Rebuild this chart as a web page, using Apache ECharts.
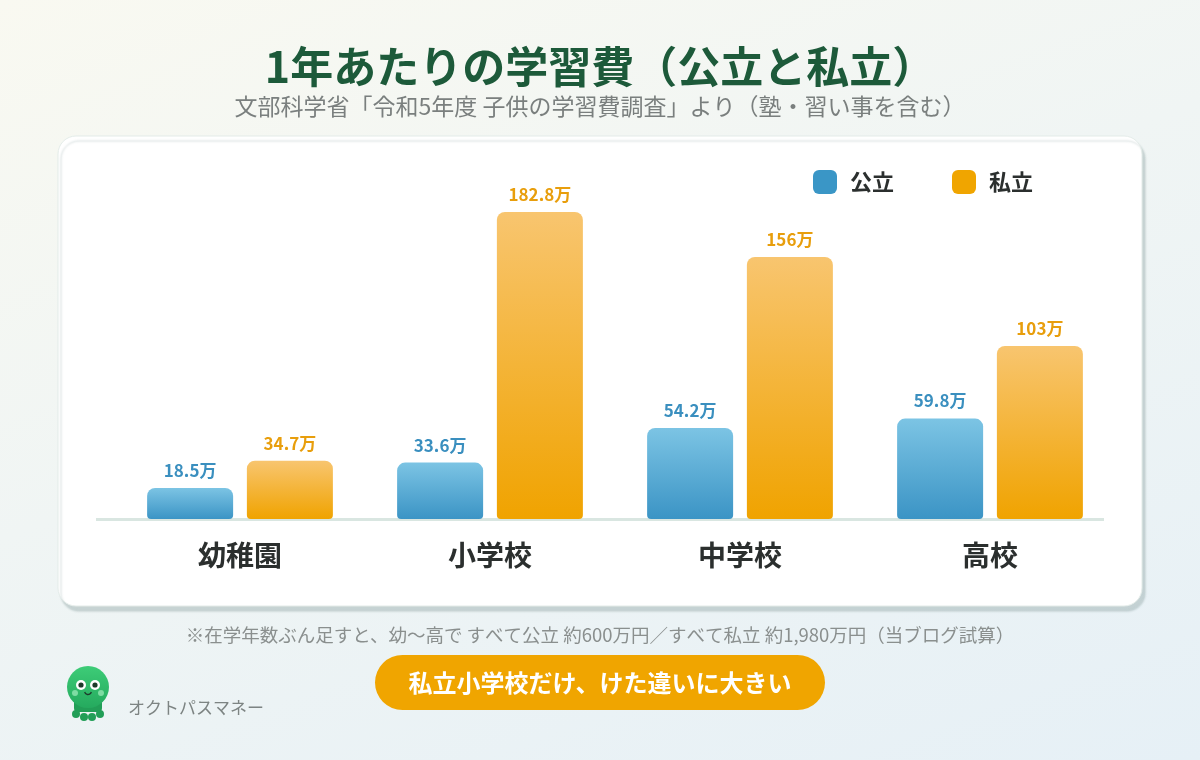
<!DOCTYPE html>
<html lang="ja">
<head>
<meta charset="utf-8">
<title>1年あたりの学習費（公立と私立）</title>
<script src="https://cdn.jsdelivr.net/npm/echarts@6/dist/echarts.min.js"></script>
<style>
  html, body { margin: 0; padding: 0; }
  body {
    width: 1200px; height: 760px;
    background: linear-gradient(160deg, #f9f9f1 0%, #f0f5f4 45%, #e6f0f6 100%);
  }
  #chart { width: 1200px; height: 760px; }
</style>
</head>
<body>
<div id="chart"></div>
<script>
// 文部科学省「令和5年度 子供の学習費調査」 単位: 万円
const categories = ['幼稚園', '小学校', '中学校', '高校']
const publicCost = [18.5, 33.6, 54.2, 59.8]
const privateCost = [34.7, 182.8, 156, 103]

const FONT = '"Noto Sans CJK JP", "Noto Sans", sans-serif'
const BLUE = '#3a96c6'
const ORANGE = '#f0a500'

const chart = echarts.init(document.getElementById('chart'), null, { renderer: 'canvas' })

const grad = (top, bottom) => new echarts.graphic.LinearGradient(0, 0, 0, 1, [
  { offset: 0, color: top },
  { offset: 1, color: bottom }
])

// たこのロゴ
const octopus = {
  type: 'group',
  x: 88,
  y: 690,
  children: [
    { type: 'rect', shape: { x: -14, y: 2, width: 28, height: 20, r: 4 }, style: { fill: '#229e57' } },
    { type: 'circle', shape: { cx: -12, cy: 24, r: 4 }, style: { fill: '#229e57' } },
    { type: 'circle', shape: { cx: -4, cy: 27, r: 4 }, style: { fill: '#229e57' } },
    { type: 'circle', shape: { cx: 4, cy: 27, r: 4 }, style: { fill: '#229e57' } },
    { type: 'circle', shape: { cx: 12, cy: 24, r: 4 }, style: { fill: '#229e57' } },
    { type: 'circle', shape: { cx: 0, cy: -3, r: 21 }, style: { fill: grad('#3dcc77', '#25aa5e') } },
    { type: 'circle', shape: { cx: -7, cy: -5, r: 5 }, style: { fill: '#fff' } },
    { type: 'circle', shape: { cx: 7, cy: -5, r: 5 }, style: { fill: '#fff' } },
    { type: 'circle', shape: { cx: -7, cy: -5, r: 2.6 }, style: { fill: '#1d3a2a' } },
    { type: 'circle', shape: { cx: 7, cy: -5, r: 2.6 }, style: { fill: '#1d3a2a' } },
    { type: 'circle', shape: { cx: -13, cy: 3, r: 3 }, style: { fill: '#7fdca3' } },
    { type: 'circle', shape: { cx: 13, cy: 3, r: 3 }, style: { fill: '#7fdca3' } },
    { type: 'arc', shape: { cx: 0, cy: 1, r: 3.5, startAngle: 0.3, endAngle: Math.PI - 0.3 }, style: { stroke: '#1d3a2a', lineWidth: 1.3, fill: null } }
  ]
}

const option = {
  backgroundColor: 'transparent',
  textStyle: { fontFamily: FONT },
  title: [
    {
      text: '1年あたりの学習費（公立と私立）',
      left: 'center',
      top: 40,
      textStyle: { fontFamily: FONT, fontSize: 43, fontWeight: 'bold', color: '#1d5a3a' }
    },
    {
      text: '文部科学省「令和5年度 子供の学習費調査」より（塾・習い事を含む）',
      left: 'center',
      top: 90,
      textStyle: { fontFamily: FONT, fontSize: 23, fontWeight: 'normal', color: '#7a7f7e' }
    },
    {
      text: '※在学年数ぶん足すと、幼〜高で すべて公立 約600万円／すべて私立 約1,980万円（当ブログ試算）',
      left: 'center',
      top: 621,
      textStyle: { fontFamily: FONT, fontSize: 18.5, fontWeight: 'normal', color: '#8a8f8e' }
    }
  ],
  legend: {
    left: 808,
    top: 165,
    icon: 'roundRect',
    itemWidth: 24,
    itemHeight: 24,
    itemGap: 58,
    textStyle: { fontFamily: FONT, fontSize: 22, fontWeight: 'bold', color: '#2b2f2e', padding: [0, 0, 0, 8] },
    data: [
      { name: '公立', itemStyle: { color: BLUE } },
      { name: '私立', itemStyle: { color: ORANGE } }
    ]
  },
  grid: {
    left: 115,
    right: 85,
    top: 183,
    bottom: 241,
    containLabel: false
  },
  xAxis: {
    type: 'category',
    data: categories,
    axisLine: { show: false },
    axisTick: { show: false },
    axisLabel: {
      margin: 22,
      fontFamily: FONT,
      fontSize: 28,
      fontWeight: 'bold',
      color: '#2b2f2e'
    }
  },
  yAxis: {
    type: 'value',
    min: 0,
    max: 200,
    show: false,
    splitLine: { show: false }
  },
  series: [
    {
      name: '公立',
      type: 'bar',
      data: publicCost,
      barWidth: 86,
      barGap: '16%',
      itemStyle: { color: grad('#7cc4e4', '#3b94c5'), borderRadius: [8, 8, 4, 4] },
      label: {
        show: true,
        position: 'top',
        distance: 9,
        formatter: '{c}万',
        fontFamily: FONT,
        fontSize: 17,
        fontWeight: 'bold',
        color: '#3a8fbf'
      }
    },
    {
      name: '私立',
      type: 'bar',
      data: privateCost,
      barWidth: 86,
      itemStyle: { color: grad('#f8c56f', '#f0a300'), borderRadius: [8, 8, 4, 4] },
      label: {
        show: true,
        position: 'top',
        distance: 9,
        formatter: '{c}万',
        fontFamily: FONT,
        fontSize: 17,
        fontWeight: 'bold',
        color: '#e89e0c'
      }
    }
  ],
  graphic: [
    // カード
    {
      type: 'rect',
      z: -10,
      shape: { x: 58, y: 136, width: 1084, height: 470, r: 18 },
      style: {
        fill: '#ffffff',
        stroke: '#e3ebe8',
        lineWidth: 1,
        shadowColor: 'rgba(150,170,170,0.45)',
        shadowOffsetX: 3,
        shadowOffsetY: 5,
        shadowBlur: 2
      }
    },
    // 基準線
    {
      type: 'line',
      z: -5,
      shape: { x1: 96, y1: 519.5, x2: 1104, y2: 519.5 },
      style: { stroke: '#d9e6e1', lineWidth: 3 }
    },
    // まとめボタン
    {
      type: 'group',
      x: 375,
      y: 655,
      children: [
        { type: 'rect', shape: { x: 0, y: 0, width: 450, height: 55, r: 27.5 }, style: { fill: ORANGE } },
        {
          type: 'text',
          x: 225,
          y: 27.5,
          style: {
            text: '私立小学校だけ、けた違いに大きい',
            fill: '#ffffff',
            font: 'bold 24px ' + FONT,
            align: 'center',
            verticalAlign: 'middle'
          }
        }
      ]
    },
    octopus,
    {
      type: 'text',
      x: 128,
      y: 708,
      style: {
        text: 'オクトパスマネー',
        fill: '#7d8483',
        font: '17px ' + FONT,
        verticalAlign: 'middle'
      }
    }
  ]
}

chart.setOption(option)
</script>
</body>
</html>
